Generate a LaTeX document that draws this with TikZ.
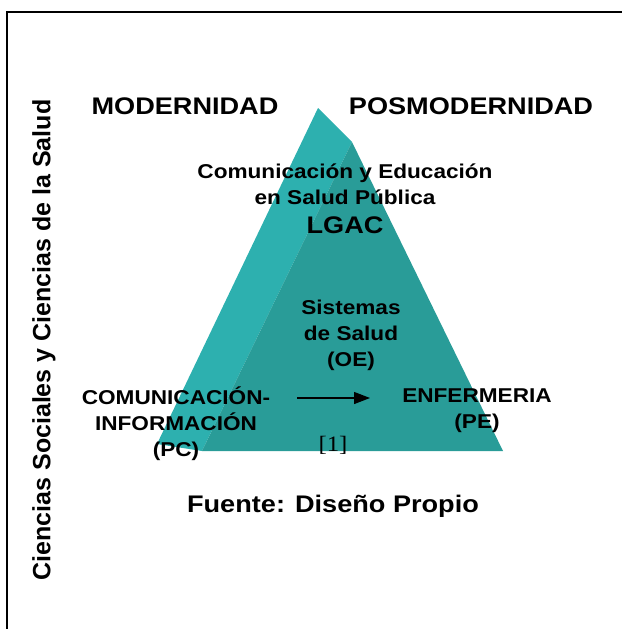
\documentclass[tikz,border=0pt]{standalone}
\usepackage{fontspec}
\setmainfont{Liberation Sans}[FakeStretch=1.13]
\newfontfamily\vertfont{Liberation Sans}
\newfontfamily\reffont{Liberation Serif}[FakeStretch=1.13]
\usepackage{xcolor}
\usepackage{tikz}
\usetikzlibrary{arrows.meta, positioning, calc}
\definecolor{tealL}{RGB}{45,176,175}
\definecolor{tealD}{RGB}{41,156,152}
\tikzstyle{big} = [font=\fontsize{24}{28}\selectfont\bfseries, inner sep=0pt]
\tikzstyle{txt} = [font=\fontsize{20}{26}\selectfont\bfseries, align=center, inner sep=0pt]
\tikzstyle{arrow} = [line width=1.3pt, -{Triangle[length=16pt,width=12pt]}]

\begin{document}
\begin{tikzpicture}[x=1pt, y=-1pt]
\useasboundingbox (0,0) rectangle (622,629);
% marco
\draw[line width=2pt] (7,629) -- (7,12) -- (622,12);
% piramide
\fill[tealL] (318,108) -- (352,142) -- (202,451) -- (157,444) -- cycle;
\fill[tealD] (352,142) -- (503,451) -- (202,451) -- cycle;
% textos
\node[big] (mod) at (185,106) {MODERNIDAD};
\node[big] (posmod) at (471,106) {POSMODERNIDAD};
\node[txt] (ceps) at (345,184) {Comunicación y Educación\\en Salud Pública};
\node[big] (lgac) at (345,225) {LGAC};
\node[txt] (sis) at (351,335) {Sistemas\\de Salud\\(OE)};
\node[txt] (pc) at (176,424) {COMUNICACIÓN-\\INFORMACIÓN\\(PC)};
\node[txt] (pe) at (477,411) {ENFERMERIA\\(PE)};
\node[inner sep=0pt, font=\reffont\fontsize{22}{26}\selectfont] (ref) at (333,445) {[1]};
\node[big] (fuente) at (333,506) {Fuente: Diseño Propio};
\node[inner sep=0pt, rotate=90, font=\vertfont\fontsize{25}{30}\selectfont\bfseries] (cs) at (44,340) {Ciencias Sociales y Ciencias de la Salud};
% flecha
\coordinate (a1) at (297,398);
\coordinate (a2) at (370,398);
\draw[arrow] (a1) -- (a2);
\end{tikzpicture}
\end{document}
